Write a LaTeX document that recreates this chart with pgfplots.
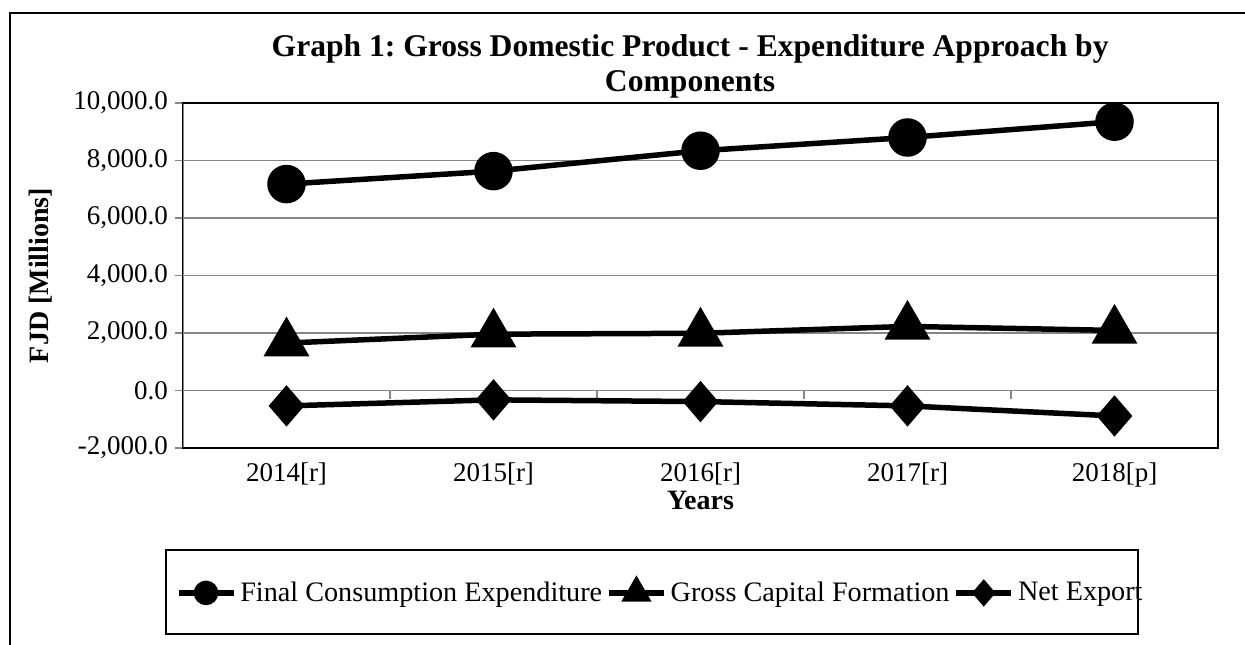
\documentclass[border=0pt]{standalone}
\usepackage{fontspec}
\setmainfont{Liberation Serif}
\usepackage{pgfplots}
\pgfplotsset{compat=1.18}
\definecolor{gridgray}{HTML}{868686}
\frenchspacing
\begin{document}
\begin{tikzpicture}[x=1pt,y=1pt]
\useasboundingbox (0,0) rectangle (622.5,322);
\draw[line width=1pt] (5,-5) rectangle (630,315.5);
\draw[line width=0.8pt] (83,5) rectangle (569,47);
\begin{axis}[
  at={(91.5pt,98pt)}, anchor=south west,
  scale only axis, width=517.5pt, height=172.5pt,
  xmin=-0.5, xmax=4.5, ymin=-2000, ymax=10000,
  xtick={0,1,2,3,4},
  xticklabels={2014[r],2015[r],2016[r],2017[r],2018[p]},
  xtick style={draw=none},
  ytick={-2000,0,2000,4000,6000,8000,10000},
  scaled y ticks=false,
  ytick pos=left,
  ytick style={draw=gridgray, line width=0.9pt},
  major tick length=4pt, tick align=outside,
  ymajorgrids, grid style={gridgray, line width=0.9pt},
  axis line style={line width=1pt},
  /pgf/number format/.cd, fixed, fixed zerofill, precision=1, 1000 sep={,}, assume math mode=true, /pgfplots/.cd,
  ticklabel style={font=\fontsize{13.5}{16}\selectfont},
  xlabel={Years},
  xlabel style={at={(axis description cs:0.5,-0.152)}, anchor=center, font=\bfseries\fontsize{14}{16}\selectfont},
  ylabel={FJD [Millions]},
  ylabel style={at={(axis description cs:-0.138,0.5)}, anchor=center, font=\bfseries\fontsize{14}{16}\selectfont},
  title={Graph 1: Gross Domestic Product - Expenditure Approach by\\Components},
  title style={at={(axis description cs:0.49,1.07)}, anchor=center, align=center, font=\bfseries\fontsize{15.8}{17.5}\selectfont},
  legend image code/.code={\draw[#1, mark repeat=2, mark phase=2] plot coordinates {(0pt,0pt) (13.75pt,0pt) (27.5pt,0pt)};},
  legend columns=3,
  legend style={draw=none, fill=none, at={(axis description cs:0.462,-0.42)}, anchor=center,
    font=\fontsize{14.1}{16}\selectfont, /tikz/every even column/.append style={column sep=0pt}},
  legend cell align=left,
]
\draw[gridgray, line width=1pt] (rel axis cs:0,0) -- (rel axis cs:0,1);
\draw[gridgray, line width=0.9pt] (axis cs:-0.5,0) -- (axis cs:4.5,0);
\pgfplotsinvokeforeach{0.5,1.5,2.5,3.5}{\draw[gridgray, line width=0.9pt] (axis cs:#1,0) -- ++(0pt,-4pt);}
\draw[black, line width=1pt] (rel axis cs:0,1) -- (rel axis cs:1,1) -- (rel axis cs:1,0) -- (rel axis cs:0,0);

\addplot[forget plot, black, line width=2.75pt, mark=*, mark size=8.25pt] coordinates {(0,7180) (1,7630) (2,8340) (3,8800) (4,9350)};
\addplot[forget plot, black, line width=2.75pt, mark=triangle*, mark size=10.5pt] coordinates {(0,1650) (1,1960) (2,1990) (3,2230) (4,2090)};
\addplot[forget plot, black, line width=2.75pt, mark=diamond*, mark size=8.25pt, mark options={xscale=1.15}] coordinates {(0,-535) (1,-325) (2,-385) (3,-535) (4,-885)};

\addlegendimage{black, line width=2.75pt, mark=*, mark size=4.75pt}
\addlegendimage{black, line width=2.75pt, mark=triangle*, mark size=6pt}
\addlegendimage{black, line width=2.75pt, mark=diamond*, mark size=4.75pt, mark options={xscale=1.15}}
\legend{Final Consumption Expenditure, Gross Capital Formation, Net Export}
\end{axis}
\end{tikzpicture}
\end{document}
